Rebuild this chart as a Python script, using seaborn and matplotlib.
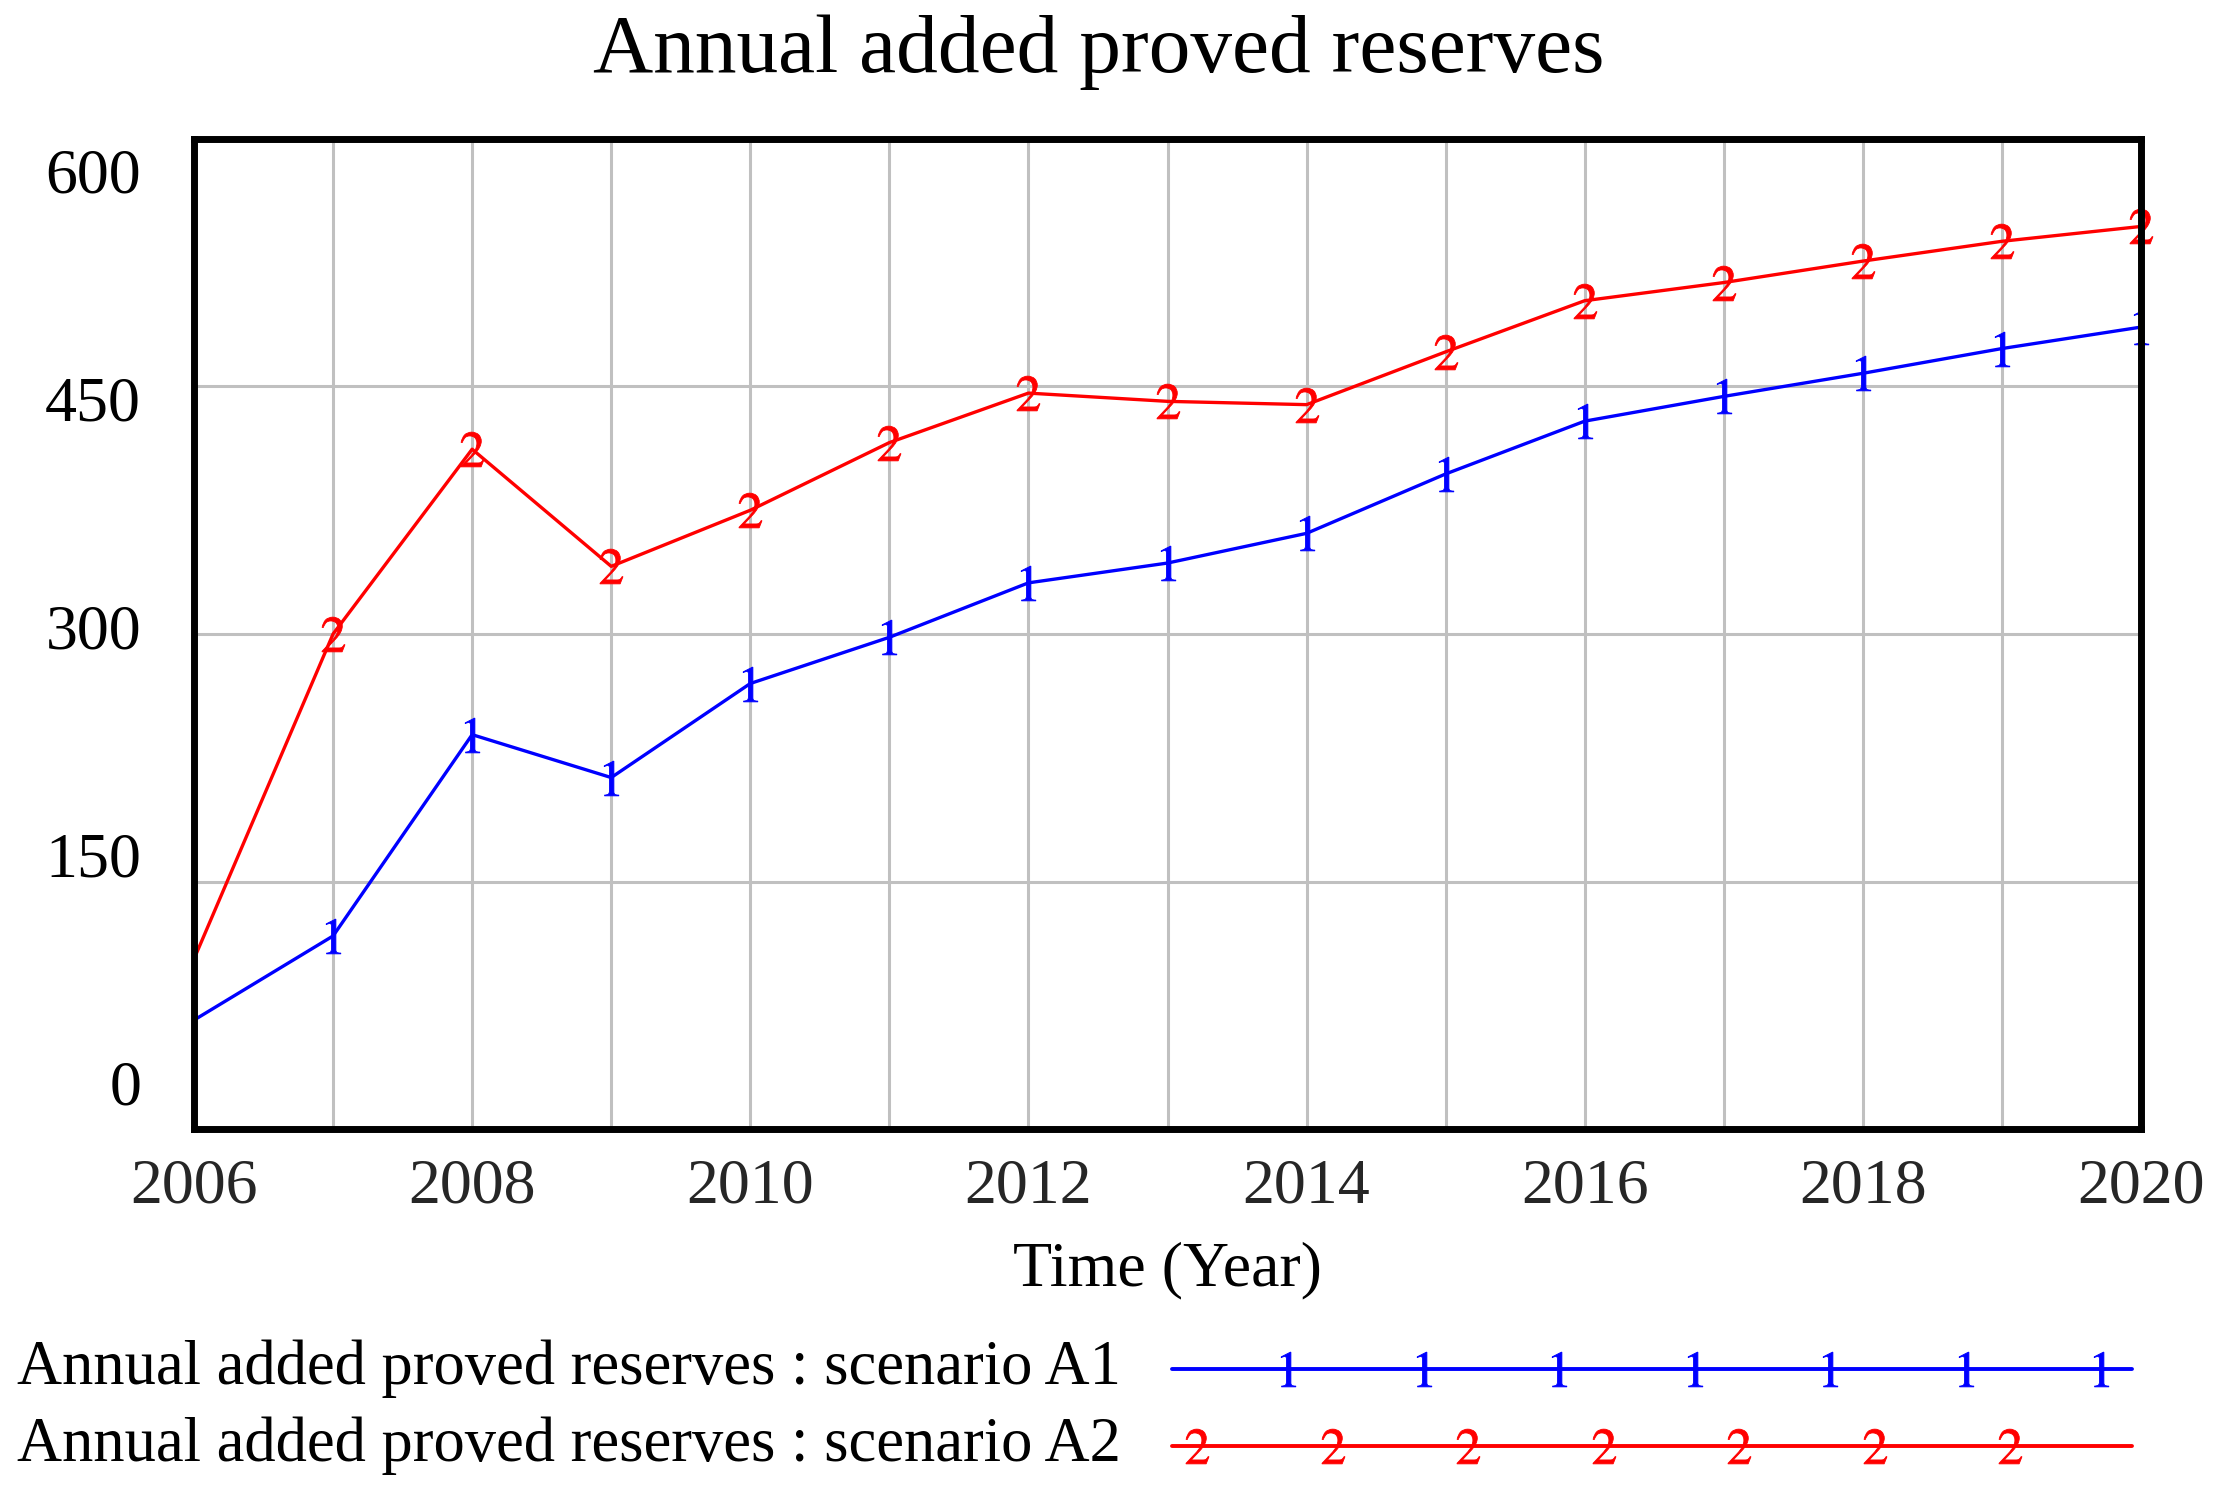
import matplotlib
matplotlib.use("Agg")
import matplotlib.pyplot as plt
import matplotlib.transforms as mtransforms
import seaborn as sns
import numpy as np

years = list(range(2006, 2021))
scenario_a1 = [66, 117, 239, 213, 270, 298, 331, 343, 361, 397, 429, 444, 458, 473, 486]
scenario_a2 = [103, 300, 412, 341, 375, 416, 446, 441, 439, 471, 502, 513, 526, 538, 547]
series_names = ["Annual added proved reserves : scenario A1",
                "Annual added proved reserves : scenario A2"]
y_ticks = [0, 150, 300, 450, 600]
x_label_years = [2006, 2008, 2010, 2012, 2014, 2016, 2018, 2020]

sns.set_theme(style="white")
plt.rcParams["font.family"] = ["Liberation Serif", "DejaVu Serif"]
plt.rcParams["mathtext.fontset"] = "stix"

W, H = 2219, 1492
fig = plt.figure(figsize=(W / 100, H / 100), dpi=100)
ax = fig.add_axes([194 / W, 1 - 1129 / H, (2141 - 194) / W, (1129 - 139) / H])

blue = "#0000ff"
red = "#ff0000"
mk_idx = list(range(1, len(years)))
sns.lineplot(x=years, y=scenario_a1, ax=ax, color=blue, linewidth=2.4,
             marker="$1$", markersize=25, markevery=mk_idx,
             markeredgecolor=blue, markeredgewidth=0.6, clip_on=False, zorder=4)
sns.lineplot(x=years, y=scenario_a2, ax=ax, color=red, linewidth=2.4,
             marker="$2$", markersize=25, markevery=mk_idx,
             markeredgecolor=red, markeredgewidth=0.6, clip_on=False, zorder=4)

ax.set_xlim(years[0], years[-1])
ax.set_ylim(y_ticks[0], y_ticks[-1])
ax.set_xticks(years)
ax.set_xticklabels([str(y) if y in x_label_years else "" for y in years],
                   fontsize=46)
ax.set_yticks(y_ticks)
ax.set_yticklabels([])
ax.tick_params(axis="both", length=0)
ax.tick_params(axis="x", pad=21)
ax.grid(True, color="#c0c0c0", linewidth=2.2)
ax.set_axisbelow(True)
for sp in ax.spines.values():
    sp.set_visible(True)
    sp.set_color("black")
    sp.set_linewidth(5)
    sp.set_zorder(5)
ax.set_xlabel("")
ax.set_ylabel("")

# y tick labels (Vensim style, evenly spaced but offset from gridlines)
trans = mtransforms.blended_transform_factory(fig.transFigure, ax.transAxes)
lo, hi = 0.0394, 0.9616
for v in y_ticks:
    frac = lo + (v - y_ticks[0]) / (y_ticks[-1] - y_ticks[0]) * (hi - lo)
    ax.text(141 / W, frac, str(v), transform=trans, ha="right", va="center",
            fontsize=46, color="black")

fig.text(1099 / W, 1 - 52 / H, "Annual added proved reserves", ha="center",
         va="center", fontsize=60, color="black")
fig.text(1167 / W, 1 - 1270 / H, "Time (Year)", ha="center", va="center",
         fontsize=46, color="black")

# legend
lax = fig.add_axes([0, 0, 1, 1], facecolor="none")
lax.set_xlim(0, W)
lax.set_ylim(H, 0)
lax.axis("off")
rows = [1369, 1446]
colors = [blue, red]
marks = ["$1$", "$2$"]
starts = [1288, 1197]
for i in range(2):
    lax.text(17, rows[i], series_names[i], ha="left", va="center",
             fontsize=45, color="black")
    lax.plot([1172, 2132], [rows[i], rows[i]], color=colors[i], linewidth=2.8)
    mx = [starts[i] + 135.5 * k for k in range(7)]
    lax.plot(mx, [rows[i]] * 7, linestyle="none", marker=marks[i],
             markersize=25, color=colors[i], markeredgecolor=colors[i],
             markeredgewidth=0.6)

fig.savefig("out.png", dpi=100)
